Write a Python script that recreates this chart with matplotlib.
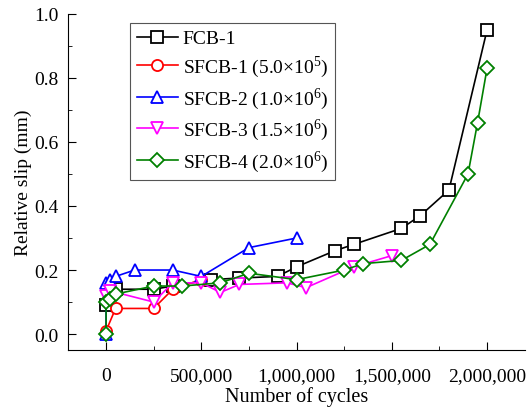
import matplotlib.pyplot as plt
from matplotlib.ticker import MultipleLocator, FuncFormatter

plt.rcParams['font.family'] = ['Liberation Serif', 'DejaVu Serif']
plt.rcParams['mathtext.fontset'] = 'custom'
plt.rcParams['mathtext.rm'] = 'Liberation Serif'

# data
fcb1_x = [0, 50000, 250000, 350000, 550000, 700000, 900000, 1000000,
          1200000, 1300000, 1550000, 1650000, 1800000, 2000000]
fcb1_y = [0.09, 0.14, 0.14, 0.15, 0.17, 0.175, 0.18, 0.21,
          0.26, 0.28, 0.33, 0.37, 0.45, 0.95]

sfcb1_x = [0, 50000, 250000, 350000, 500000]
sfcb1_y = [0.01, 0.08, 0.08, 0.14, 0.17]

sfcb2_x = [0, 0, 20000, 50000, 150000, 350000, 500000, 750000, 1000000]
sfcb2_y = [0.0, 0.16, 0.17, 0.18, 0.20, 0.20, 0.18, 0.27, 0.30]

sfcb3_x = [0, 20000, 250000, 350000, 500000, 600000, 700000, 950000,
           1050000, 1300000, 1500000]
sfcb3_y = [0.12, 0.135, 0.10, 0.16, 0.16, 0.13, 0.155, 0.16,
           0.145, 0.21, 0.245]

sfcb4_x = [0, 0, 20000, 50000, 250000, 400000, 600000, 750000, 1000000,
           1250000, 1350000, 1550000, 1700000, 1900000, 1950000, 2000000]
sfcb4_y = [0.0, 0.10, 0.11, 0.125, 0.15, 0.15, 0.16, 0.19, 0.17,
           0.20, 0.22, 0.23, 0.28, 0.50, 0.66, 0.83]

fig = plt.figure(figsize=(5.31, 4.14), dpi=100)
ax = fig.add_axes([0.128, 0.152, 0.861, 0.812])

style = dict(markerfacecolor='white', markersize=8, markeredgewidth=1.3, linewidth=1.2)
ax.plot(fcb1_x, fcb1_y, color='black', marker='s', label='FCB-1', **style)
ax.plot(sfcb1_x, sfcb1_y, color='red', marker='o', label='SFCB-1 (5.0×10$^{5}$)', **style)
ax.plot(sfcb2_x, sfcb2_y, color='blue', marker='^', label='SFCB-2 (1.0×10$^{6}$)', **style)
ax.plot(sfcb3_x, sfcb3_y, color='magenta', marker='v', label='SFCB-3 (1.5×10$^{6}$)', **style)
ax.plot(sfcb4_x, sfcb4_y, color='green', marker='D', label='SFCB-4 (2.0×10$^{6}$)',
        **dict(style, markersize=7.5))

ax.set_xlim(-200000, 2200000)
ax.set_ylim(-0.05, 1.0)
ax.xaxis.set_major_locator(MultipleLocator(500000))
ax.xaxis.set_minor_locator(MultipleLocator(250000))
ax.yaxis.set_major_locator(MultipleLocator(0.2))
ax.yaxis.set_minor_locator(MultipleLocator(0.1))
ax.xaxis.set_major_formatter(FuncFormatter(lambda v, p: '{:,.0f}'.format(v)))
ax.yaxis.set_major_formatter(FuncFormatter(lambda v, p: '{:.1f}'.format(v)))

for s in ['top', 'right']:
    ax.spines[s].set_visible(False)
ax.spines['left'].set_bounds(-0.05, 1.0)
ax.tick_params(which='both', direction='in', labelsize=14)
ax.tick_params(which='major', length=6)
ax.tick_params(axis='x', which='major', pad=12)
ax.tick_params(axis='y', which='major', pad=7)
ax.tick_params(which='minor', length=3)

ax.set_xlabel('Number of cycles', fontsize=14.5, labelpad=2)
ax.set_ylabel('Relative slip (mm)', fontsize=14, labelpad=1)

leg = ax.legend(loc='upper left', bbox_to_anchor=(0.136, 0.973), fontsize=14,
                handlelength=2.1, fancybox=False, framealpha=1, borderpad=0.35,
                labelspacing=0.3, handletextpad=0.25, borderaxespad=0)
leg.get_frame().set_edgecolor('#555555')
leg.get_frame().set_linewidth(0.8)

fig.savefig('out.png', dpi=100)
